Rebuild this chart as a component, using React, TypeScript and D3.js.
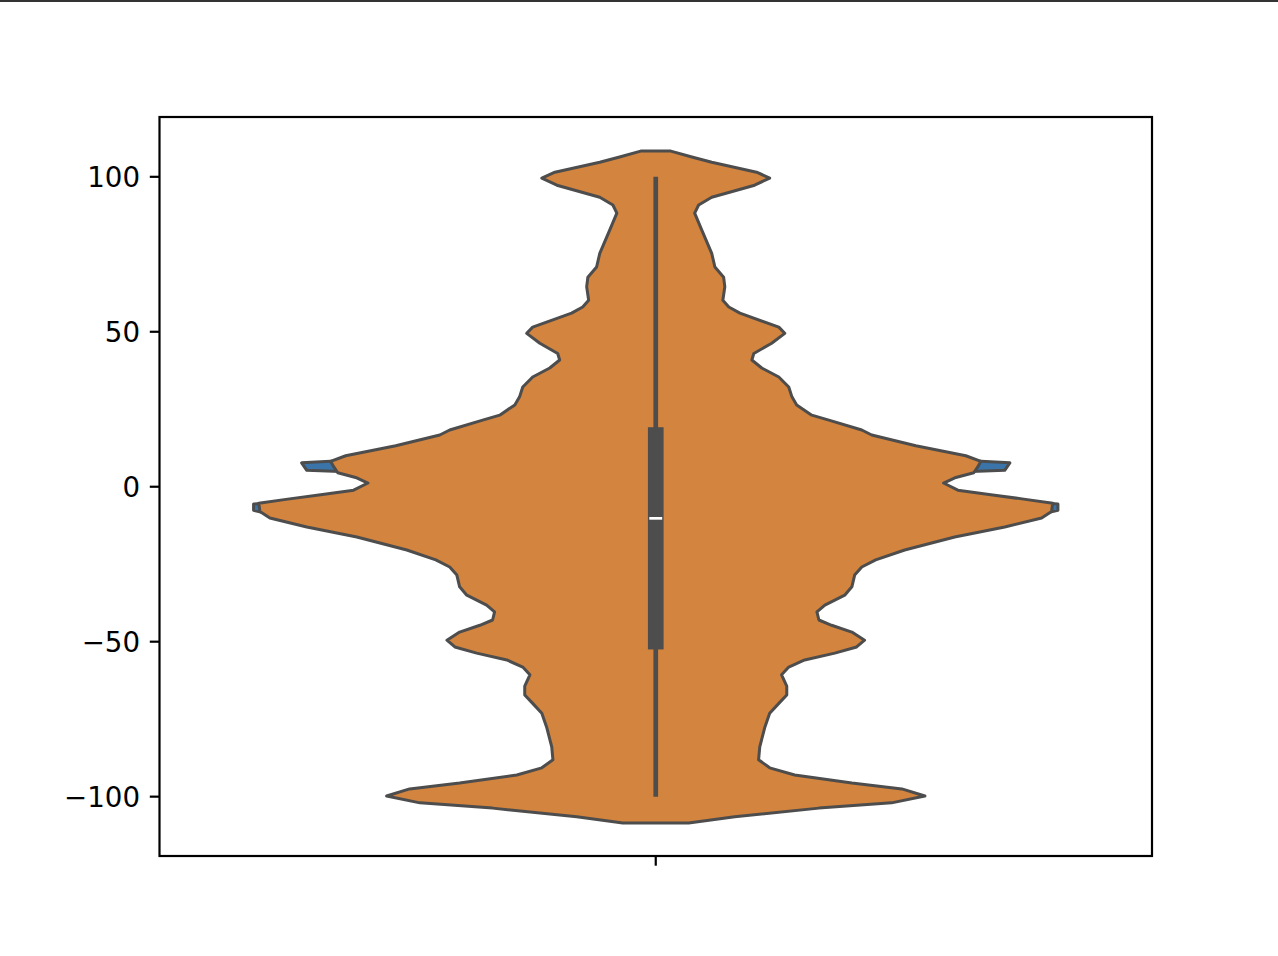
import { useEffect, useRef } from "react";
import * as d3 from "d3";

// violin outline: y value and half-width (1 = widest point)
const orangeY = [
  108.3, 106.4, 104.7, 101.5, 99.6, 97.3, 93.4, 90.9, 88.3, 82.8, 75.3, 70.9, 67.6, 64.5,
  60.2, 58.0, 56.0, 51.5, 49.5, 46.3, 43.0, 40.9, 38.3, 35.4, 32.2, 29.0, 26.4, 23.1, 21.5,
  18.3, 16.7, 13.2, 10.0, 8.2, 6.4, 4.5, 3.0, 1.2, -1.1, -2.6, -4.0, -5.3, -8.0, -10.1,
  -13.0, -16.2, -20.4, -23.6, -25.9, -28.5, -32.3, -35.0, -38.2, -40.4, -43.0, -44.7, -46.9,
  -49.5, -51.7, -53.7, -55.9, -58.2, -60.7, -64.3, -67.2, -69.9, -73.1, -77.5, -83.9, -88.1,
  -90.7, -93.0, -95.6, -97.5, -99.8, -102.0, -103.7, -106.5, -108.5,
];
const orangeDensity = [
  0.038, 0.091, 0.141, 0.254, 0.287, 0.249, 0.141, 0.108, 0.098, 0.116, 0.141, 0.149, 0.171,
  0.174, 0.169, 0.184, 0.212, 0.310, 0.325, 0.292, 0.247, 0.242, 0.267, 0.310, 0.335, 0.343,
  0.355, 0.393, 0.436, 0.519, 0.544, 0.655, 0.781, 0.819, 0.811, 0.801, 0.756, 0.725, 0.761,
  0.844, 0.927, 1.0, 0.997, 0.972, 0.879, 0.753, 0.627, 0.554, 0.519, 0.501, 0.494, 0.476,
  0.426, 0.406, 0.411, 0.443, 0.494, 0.526, 0.506, 0.451, 0.375, 0.335, 0.317, 0.330, 0.330,
  0.310, 0.287, 0.275, 0.262, 0.259, 0.287, 0.350, 0.494, 0.620, 0.678, 0.594, 0.411, 0.199,
  0.083,
];

// the blue violin is behind, only its edges near 0 show
const blueY = [10.0, 7.7, 5.3, 3.6, -3.0, -5.6, -7.6, -10.0];
const blueDensity = [0.554, 0.892, 0.879, 0.529, 0.756, 1.013, 1.013, 0.932];

// box stats
const whisker = [-100, 100];
const quartiles = [-52.5, 19.2];
const median = -10.2;

const yTicks = [-100, -50, 0, 50, 100];

export default function App() {
  const svgRef = useRef<SVGSVGElement>(null);

  useEffect(() => {
    const svg = d3.select(svgRef.current);
    svg.selectAll("*").remove();

    const width = 1278, height = 956;
    const left = 159.5, right = 1152, top = 117, bottom = 856;
    const tick = 9.7;
    const outline = "#4d4d4d";

    const x = d3.scaleLinear().domain([-0.5, 0.5]).range([left, right]);
    const y = d3.scaleLinear().domain([-119.15, 119.3]).range([bottom, top]);
    const half = 0.4; // violin width 0.8

    svg.attr("width", width).attr("height", height);

    // thin dark edge at top of picture
    svg.append("line")
      .attr("x1", 0).attr("x2", width).attr("y1", 1).attr("y2", 1)
      .attr("stroke", "#333").attr("stroke-width", 2);

    const violin = (ys: number[], ds: number[], fill: string) => {
      const pts = ys.map((v, i) => ({ v, d: ds[i] }));
      const area = d3.area<{ v: number; d: number }>()
        .y(p => y(p.v))
        .x0(p => x(-p.d * half))
        .x1(p => x(p.d * half));
      svg.append("path")
        .datum(pts)
        .attr("d", area)
        .attr("fill", fill)
        .attr("stroke", outline)
        .attr("stroke-width", 3)
        .attr("stroke-linejoin", "round");
    };

    violin(blueY, blueDensity, "#3a74a8");
    violin(orangeY, orangeDensity, "#d3843e");

    // box
    svg.append("line")
      .attr("x1", x(0)).attr("x2", x(0))
      .attr("y1", y(whisker[1])).attr("y2", y(whisker[0]))
      .attr("stroke", outline).attr("stroke-width", 4.7);
    const boxW = 0.0158;
    svg.append("rect")
      .attr("x", x(-boxW / 2)).attr("width", x(boxW / 2) - x(-boxW / 2))
      .attr("y", y(quartiles[1])).attr("height", y(quartiles[0]) - y(quartiles[1]))
      .attr("fill", outline);
    const medW = 0.013;
    svg.append("line")
      .attr("x1", x(-medW / 2)).attr("x2", x(medW / 2))
      .attr("y1", y(median)).attr("y2", y(median))
      .attr("stroke", "#fff").attr("stroke-width", 2.7);

    // spines
    svg.append("rect")
      .attr("x", left).attr("y", top)
      .attr("width", right - left).attr("height", bottom - top)
      .attr("fill", "none").attr("stroke", "#000").attr("stroke-width", 2.2);

    // y ticks
    const yt = svg.append("g");
    yTicks.forEach(t => {
      yt.append("line")
        .attr("x1", left - tick).attr("x2", left)
        .attr("y1", y(t)).attr("y2", y(t))
        .attr("stroke", "#000").attr("stroke-width", 2.2);
      yt.append("text")
        .attr("x", left - tick - 9.7).attr("y", y(t)).attr("dy", "0.36em")
        .attr("text-anchor", "end")
        .attr("font-family", "DejaVu Sans").attr("font-size", 27.7)
        .attr("fill", "#000")
        .text(t < 0 ? "\u2212" + Math.abs(t) : String(t));
    });

    // single category tick, no label
    svg.append("line")
      .attr("x1", x(0)).attr("x2", x(0))
      .attr("y1", bottom).attr("y2", bottom + tick)
      .attr("stroke", "#000").attr("stroke-width", 2.2);
  }, []);

  return <svg ref={svgRef} style={{ position: "absolute", left: 0, top: 0 }} />;
}
